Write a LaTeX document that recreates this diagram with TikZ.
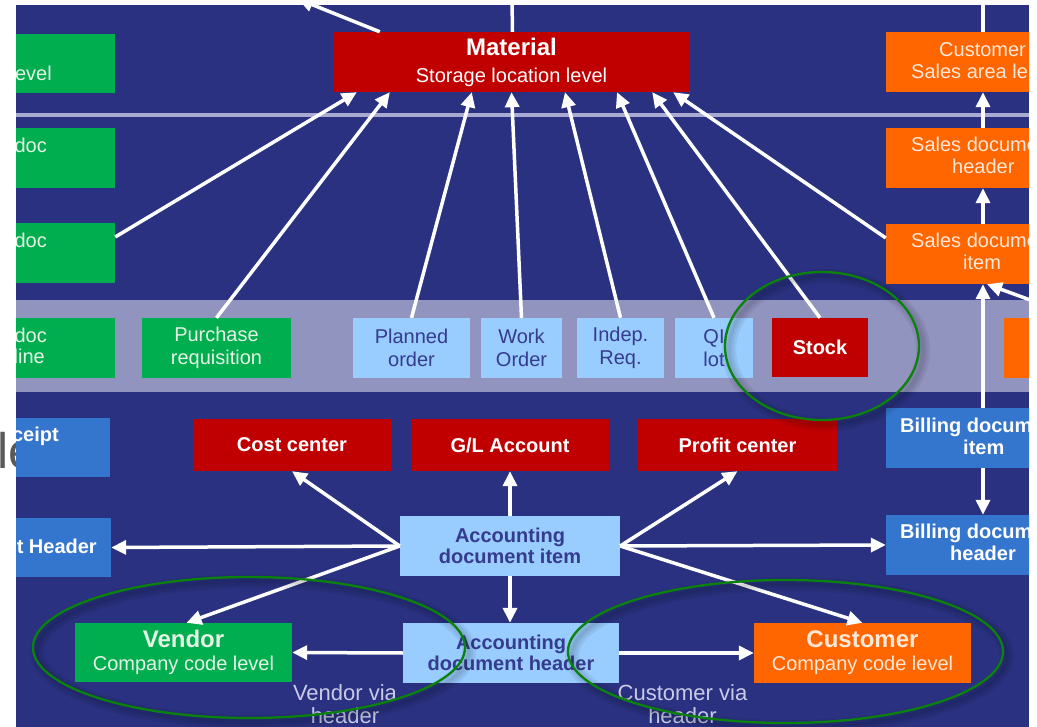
\documentclass[tikz,border=0pt]{standalone}
\usepackage{fontspec}
\setmainfont{Liberation Sans}
\usetikzlibrary{arrows.meta}
\definecolor{bg}{HTML}{2A3180}
\definecolor{band}{HTML}{9294C0}
\definecolor{hline}{HTML}{A8AAD2}
\definecolor{gfill}{HTML}{00AD4F}
\definecolor{rfill}{HTML}{C00000}
\definecolor{ofill}{HTML}{FF6600}
\definecolor{mfill}{HTML}{3476CE}
\definecolor{lfill}{HTML}{99CCFF}
\definecolor{gtext}{HTML}{E6F4E6}
\definecolor{otext}{HTML}{FFE8D8}
\definecolor{ltext}{HTML}{353B8E}
\definecolor{vtext}{HTML}{C9CBE8}
\definecolor{egreen}{HTML}{0B820B}
\definecolor{legray}{HTML}{595959}
\tikzset{
  bx/.style={rectangle, inner sep=0pt, align=center, font=\fontsize{20}{23}\selectfont},
  gbox/.style={bx, fill=gfill, text=gtext},
  rbox/.style={bx, fill=rfill, text=white, font=\fontsize{20}{23}\selectfont\bfseries},
  obox/.style={bx, fill=ofill, text=otext},
  mbox/.style={bx, fill=mfill, text=white, font=\fontsize{20}{23}\selectfont\bfseries},
  lbox/.style={bx, fill=lfill, text=ltext},
  frag/.style={inner sep=0pt, font=\fontsize{20}{23}\selectfont},
  arr/.style={draw=white, line width=3.5pt, -{Triangle[length=15pt,width=14pt]}},
  wline/.style={draw=white, line width=3.5pt},
  eshadow/.style={draw=black, opacity=0.06},
  ering/.style={draw=egreen, line width=2.3pt},
}
\begin{document}
\begin{tikzpicture}[x=1pt,y=-1pt]
\useasboundingbox (0,0) rectangle (1037,727);
\node[anchor=base west, text=legray, inner sep=0pt, font=\fontsize{50}{50}\selectfont] (le) at (-3,468) {le};
\fill[bg] (16,5) rectangle (1029,727);
\begin{scope}
\clip (16,5) rectangle (1029,727);
\fill[band] (16,300) rectangle (1029,392);
\draw[hline, line width=4pt] (16,115) -- (1029,115);

% left green column
\node[gbox, minimum width=175, minimum height=59] (g1) at (27.5,63.5) {};
\node[gbox, minimum width=175, minimum height=60] (g2) at (27.5,158) {};
\node[gbox, minimum width=175, minimum height=60] (g3) at (27.5,253) {};
\node[gbox, minimum width=175, minimum height=60] (g4) at (27.5,348) {};
\node[frag, text=gtext, anchor=base east] (g1t) at (52,81) {evel};
\node[frag, text=gtext, anchor=base east] (g2t) at (47,153) {doc};
\node[frag, text=gtext, anchor=base east] (g3t) at (47,248) {doc};
\node[frag, text=gtext, anchor=base east] (g4t) at (47,343) {doc};
\node[frag, text=gtext, anchor=base east] (g4u) at (45,364) {line};
\node[gbox, minimum width=149, minimum height=60] (preq) at (216.5,348) {Purchase\\requisition};

% left blue
\node[mbox, minimum width=170, minimum height=59] (b1) at (25,447.5) {};
\node[mbox, minimum width=171, minimum height=59] (b2) at (25.5,547.5) {};
\node[frag, text=white, font=\fontsize{20}{23}\selectfont\bfseries, anchor=base east] (b1t) at (59,442) {ceipt};
\node[frag, text=white, font=\fontsize{20}{23}\selectfont\bfseries, anchor=base east] (b2t) at (97,553) {t Header};

% material
\node[bx, fill=rfill, text=white, minimum width=357, minimum height=60] (mat) at (511.5,62)
  {{\fontsize{24}{26}\selectfont\bfseries Material}\\[4pt]Storage location level};

% band light blue + stock
\node[lbox, minimum width=117, minimum height=60] (plan) at (411.5,348) {Planned\\order};
\node[lbox, minimum width=81, minimum height=60] (work) at (521.5,348) {Work\\Order};
\node[lbox, minimum width=87, minimum height=60] (indep) at (620.5,348) {Indep.\\Req.};
\node[lbox, minimum width=78, minimum height=60] (qi) at (714,348) {QI\\lot};
\node[rbox, minimum width=96, minimum height=59] (stock) at (820,347.5) {Stock};

% red row
\node[rbox, minimum width=198, minimum height=52] (cost) at (292,445) {Cost center};
\node[rbox, minimum width=198, minimum height=52] (gl) at (510,445) {G/L Account};
\node[rbox, minimum width=199, minimum height=52] (profit) at (737.5,445) {Profit center};

% accounting
\node[lbox, font=\fontsize{20}{21}\selectfont\bfseries, minimum width=220, minimum height=60] (adi) at (510,546) {Accounting\\document item};
\node[lbox, font=\fontsize{20}{21}\selectfont\bfseries, minimum width=216, minimum height=60] (adh) at (511,653) {Accounting\\document header};

% vendor / customer
\node[gbox, minimum width=217, minimum height=59] (vendor) at (183.5,652.5)
  {{\fontsize{24}{24}\selectfont\bfseries Vendor}\\Company code level};
\node[obox, minimum width=217, minimum height=60] (customer) at (862.5,653)
  {{\fontsize{24}{24}\selectfont\bfseries Customer}\\Company code level};
\node[frag, text=vtext, font=\fontsize{22}{23}\selectfont, align=center, anchor=north] (vvia) at (345,684) {Vendor via\\header};
\node[frag, text=vtext, font=\fontsize{22}{23}\selectfont, align=center, anchor=north] (cvia) at (682.5,684) {Customer via\\header};

% right column
\node[obox, minimum width=194, minimum height=60] (csa) at (983,62) {};
\node[obox, minimum width=194, minimum height=60] (sdh) at (983,158) {};
\node[obox, minimum width=194, minimum height=60] (sdi) at (983,254) {};
\node[obox, minimum width=96, minimum height=60] (oband) at (1052,348) {};
\node[mbox, minimum width=194, minimum height=60] (bdi) at (983,438) {};
\node[mbox, minimum width=194, minimum height=60] (bdh) at (983,545) {};
\node[frag, text=otext, anchor=base west] (csat) at (939,57) {Customer};
\node[frag, text=otext, anchor=base west] (csau) at (911,79) {Sales area le};
\node[frag, text=otext, anchor=base west] (sdht) at (911,152) {Sales docume};
\node[frag, text=otext, anchor=base west] (sdhu) at (952,174) {header};
\node[frag, text=otext, anchor=base west] (sdit) at (911,248) {Sales docume};
\node[frag, text=otext, anchor=base west] (sdiu) at (963,270) {item};
\node[frag, text=white, font=\fontsize{20}{23}\selectfont\bfseries, anchor=base west] (bdit) at (900,432) {Billing docum};
\node[frag, text=white, font=\fontsize{20}{23}\selectfont\bfseries, anchor=base west] (bdiu) at (963,454) {item};
\node[frag, text=white, font=\fontsize{20}{23}\selectfont\bfseries, anchor=base west] (bdht) at (900,538) {Billing docum};
\node[frag, text=white, font=\fontsize{20}{23}\selectfont\bfseries, anchor=base west] (bdhu) at (950,560) {header};

% free ends
\coordinate (top1) at (512,0);
\coordinate (top2) at (983,0);
\coordinate (tl) at (298,-1);
\coordinate (rin) at (1085,320);

% arrows to material
\draw[arr] ([yshift=16pt]g3.east) -- ([xshift=24pt]mat.south west);
\draw[arr] (preq.north) -- ([xshift=57pt]mat.south west);
\draw[arr] (plan.north) -- ([xshift=139pt]mat.south west);
\draw[arr] (work.north) -- (mat.south);
\draw[arr] (indep.north) -- ([xshift=53.5pt]mat.south);
\draw[arr] (qi.north) -- ([xshift=105.5pt]mat.south);
\draw[arr] (stock.north) -- ([xshift=-38pt]mat.south east);
\draw[arr] ([yshift=16pt]sdi.west) -- ([xshift=-17pt]mat.south east);
\draw[wline] ([xshift=1pt]mat.north) -- (top1);
\draw[arr] ([xshift=47pt]mat.north west) -- (tl);
\draw[wline] (csa.north) -- (top2);

% right column arrows
\draw[arr] (sdh.north) -- (csa.south);
\draw[arr] (sdi.north) -- (sdh.south);
\draw[arr] (bdi.north) -- (sdi.south);
\draw[arr] (rin) -- ([xshift=4pt]sdi.south);
\draw[arr] (bdi.south) -- (bdh.north);

% accounting arrows
\draw[arr] (adi.west) -- (cost.south);
\draw[arr] (adi.north) -- (gl.south);
\draw[arr] (adi.east) -- (profit.south);
\draw[arr] (adi.west) -- (b2.east);
\draw[arr] (adi.east) -- (bdh.west);
\draw[arr] (adi.west) -- ([xshift=3pt]vendor.north);
\draw[arr] (adi.east) -- (customer.north);
\draw[arr] (adi.south) -- ([xshift=-1pt]adh.north);
\draw[arr] (adh.west) -- (vendor.east);
\draw[arr] (adh.east) -- (customer.west);

% ellipses with soft drop shadow
\foreach \cx/\cy/\rx/\ry in {822/346/97/74, 249/647.5/216/70.5, 785.5/651.5/217.5/71.5}{
  \draw[eshadow, line width=14pt] (\cx+4,\cy+4) ellipse [x radius=\rx, y radius=\ry];
  \draw[eshadow, line width=9pt] (\cx+4,\cy+4) ellipse [x radius=\rx, y radius=\ry];
  \draw[eshadow, line width=4pt] (\cx+4,\cy+4) ellipse [x radius=\rx, y radius=\ry];
  \draw[ering] (\cx,\cy) ellipse [x radius=\rx, y radius=\ry];
}
\end{scope}
\end{tikzpicture}
\end{document}
